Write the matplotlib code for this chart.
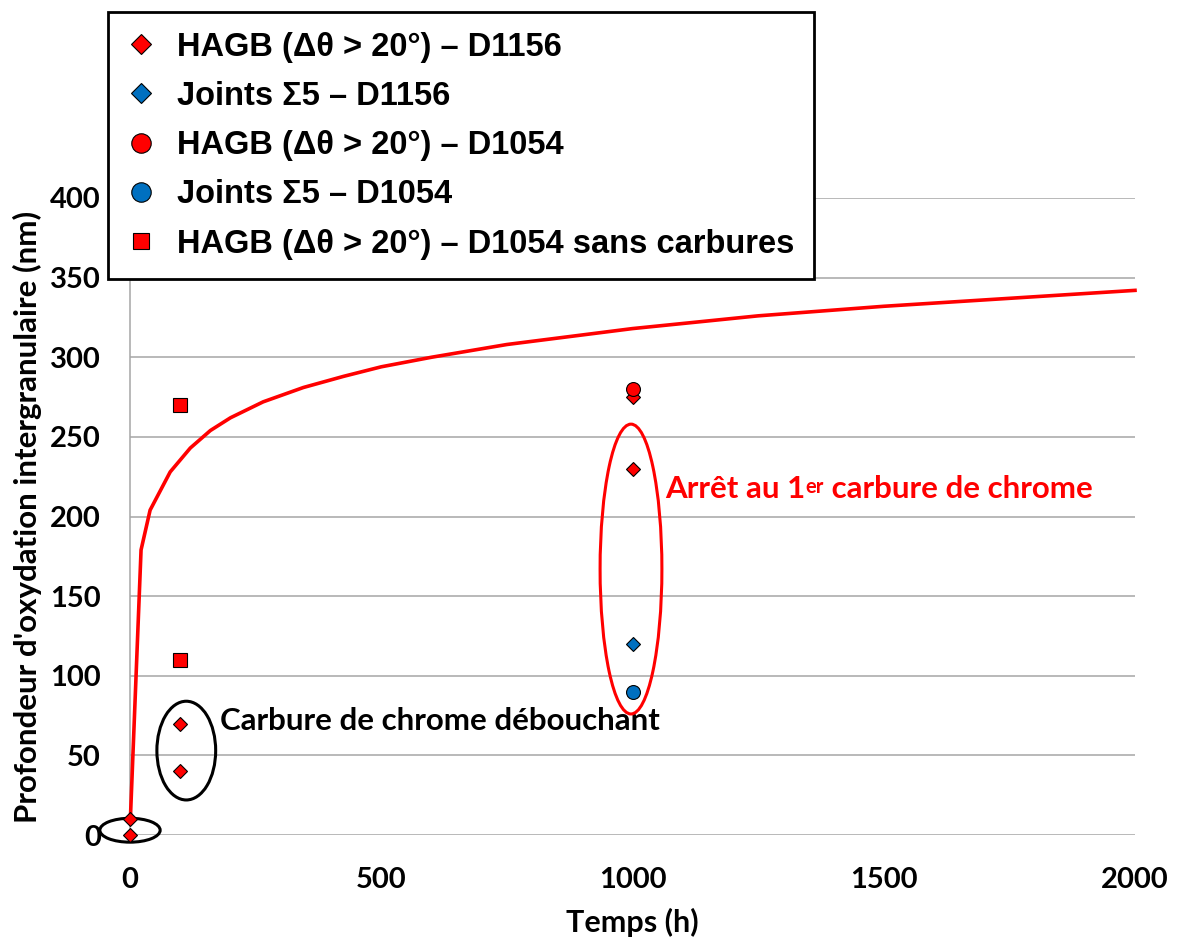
import matplotlib
matplotlib.use("Agg")
import matplotlib.pyplot as plt
from matplotlib.patches import Ellipse
from matplotlib.lines import Line2D

# mesures (profondeur d'oxydation intergranulaire, nm)
t_hagb_d1156 = [0, 0, 100, 100, 1000, 1000]
p_hagb_d1156 = [0, 10, 70, 40, 275, 230]

t_s5_d1156 = [1000]
p_s5_d1156 = [120]

t_hagb_d1054 = [1000]
p_hagb_d1054 = [280]

t_s5_d1054 = [1000]
p_s5_d1054 = [90]

t_sans_carb = [100, 100]
p_sans_carb = [270, 110]

# courbe de cinétique
t_courbe = [1, 22, 40, 80, 120, 160, 200, 265, 345, 425, 500, 600, 750,
            1000, 1250, 1500, 1750, 2000]
p_courbe = [12, 179, 204, 228, 243, 254, 262, 272, 281, 288, 294, 300, 308,
            318, 326, 332, 337, 342]

labels = ["HAGB (\u0394\u03b8 > 20°) – D1156",
          "Joints \u03a35 – D1156",
          "HAGB (\u0394\u03b8 > 20°) – D1054",
          "Joints \u03a35 – D1054",
          "HAGB (\u0394\u03b8 > 20°) – D1054 sans carbures"]

ROUGE = "#FF0000"
BLEU = "#0070C0"
GRIS = "#A6A6A6"
CAL = "Lato"

fig = plt.figure(figsize=(11.77, 9.41), dpi=100)
ax = fig.add_axes([130 / 1177, 1 - 835 / 941, 1005 / 1177, 637 / 941])

ax.plot(t_courbe, p_courbe, color=ROUGE, lw=2.6, zorder=3, clip_on=False)

mk = dict(markeredgecolor="black", markeredgewidth=0.8, linestyle="none",
          zorder=5, clip_on=False)
ax.plot(t_hagb_d1156, p_hagb_d1156, marker="D", ms=7, color=ROUGE, **mk)
ax.plot(t_s5_d1156, p_s5_d1156, marker="D", ms=7, color=BLEU, **mk)
ax.plot(t_hagb_d1054, p_hagb_d1054, marker="o", ms=10, color=ROUGE, **mk)
ax.plot(t_s5_d1054, p_s5_d1054, marker="o", ms=10, color=BLEU, **mk)
ax.plot(t_sans_carb, p_sans_carb, marker="s", ms=9.5, color=ROUGE, **mk)

# ellipses de mise en évidence
ax.add_patch(Ellipse((0, 3), 120, 15, fill=False, ec="black", lw=2.2,
                     clip_on=False, zorder=4))
ax.add_patch(Ellipse((112, 53), 117, 62, fill=False, ec="black", lw=2.2,
                     clip_on=False, zorder=4))
ax.add_patch(Ellipse((997, 167), 123, 182, fill=False, ec=ROUGE, lw=2.2,
                     clip_on=False, zorder=4))

ax.text(179, 66, "Carbure de chrome débouchant", family=CAL, weight="bold",
        fontsize=22.5, va="baseline", ha="left")

t1 = ax.text(1065, 208.5, "Arrêt au 1", family=CAL, weight="bold",
             fontsize=22.5, color=ROUGE, va="bottom", ha="left")
t2 = ax.annotate("er", xy=(1, 0.93), xycoords=t1, family=CAL, weight="bold",
                 fontsize=14.5, color=ROUGE, va="top", ha="left")
ax.annotate(" carbure de chrome", xy=(1, 0), xycoords=(t2, t1), family=CAL,
            weight="bold", fontsize=22.5, color=ROUGE, va="bottom", ha="left")

ax.set_xlim(0, 2000)
ax.set_ylim(0, 400)
ax.set_xticks([0, 500, 1000, 1500, 2000])
ax.set_yticks(range(0, 401, 50))
ax.grid(axis="y", color=GRIS, lw=1.1)
ax.set_axisbelow(True)
for s in ["top", "right", "bottom"]:
    ax.spines[s].set_visible(False)
ax.spines["left"].set_color(GRIS)
ax.spines["left"].set_linewidth(1.1)
ax.tick_params(length=0, labelsize=21)
ax.tick_params(axis="x", pad=23)
ax.tick_params(axis="y", pad=21)
for lab in ax.get_xticklabels() + ax.get_yticklabels():
    lab.set_family(CAL)
    lab.set_weight("bold")

ax.set_xlabel("Temps (h)", family=CAL, weight="bold", fontsize=22, labelpad=11)
ax.set_ylabel("Profondeur d'oxydation intergranulaire (nm)", family=CAL,
              weight="bold", fontsize=22.5, labelpad=6)

handles = [
    Line2D([], [], marker="D", ms=10, color=ROUGE, mec="black", mew=0.8, ls="none"),
    Line2D([], [], marker="D", ms=10, color=BLEU, mec="black", mew=0.8, ls="none"),
    Line2D([], [], marker="o", ms=14, color=ROUGE, mec="black", mew=0.8, ls="none"),
    Line2D([], [], marker="o", ms=14, color=BLEU, mec="black", mew=0.8, ls="none"),
    Line2D([], [], marker="s", ms=11, color=ROUGE, mec="black", mew=0.8, ls="none"),
]
leg = fig.legend(handles, labels, loc="upper left",
                 bbox_to_anchor=(108 / 1177, 1 - 12 / 941),
                 prop={"family": "Liberation Sans", "weight": "bold", "size": 23.5},
                 frameon=True, fancybox=False, framealpha=1, edgecolor="black",
                 handlelength=0.8, handletextpad=0.7, labelspacing=0.56,
                 borderpad=0.6, borderaxespad=0)
leg.get_frame().set_linewidth(2)

fig.savefig("out.png", dpi=100)
